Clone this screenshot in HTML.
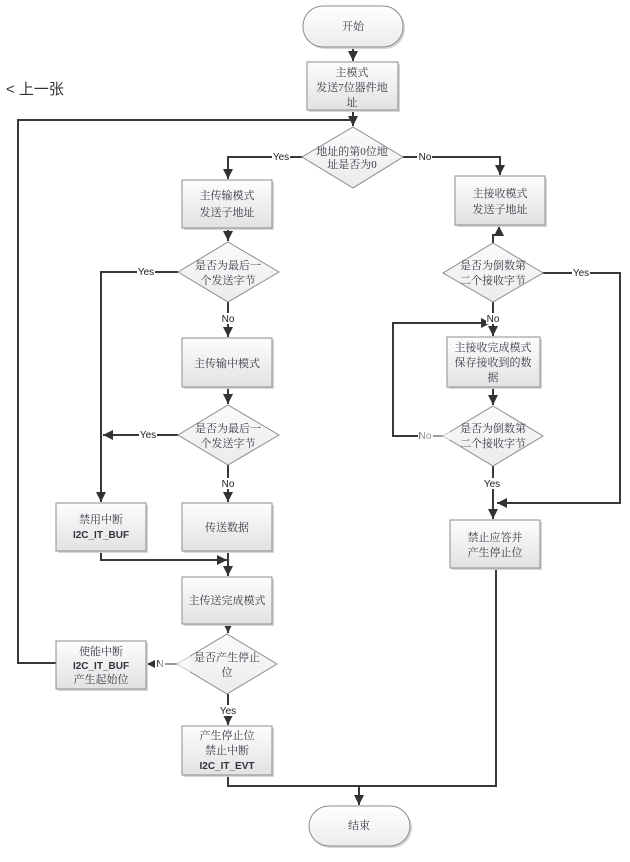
<!DOCTYPE html>
<html><head><meta charset="utf-8"><style>
html,body{margin:0;padding:0;background:#fff;}
svg{display:block;}
.t{font-family:"Liberation Serif","Noto Serif CJK SC","Noto Sans CJK SC",serif;font-size:11px;fill:#3a3a48;text-anchor:middle;}
.m{font-family:"Liberation Sans","Noto Sans CJK SC",sans-serif;font-size:10px;fill:#333340;text-anchor:middle;font-weight:bold;}
.l{font-family:"Liberation Sans","Noto Sans CJK SC",sans-serif;font-size:10px;fill:#222;text-anchor:middle;}
.ln{fill:none;stroke:#383838;stroke-width:2;}
.bx{fill:url(#gb);stroke:#8c8c8c;stroke-width:1;}
.sh{fill:#d6d6d6;}
.dm{fill:url(#gd);stroke:#8c8c8c;stroke-width:1;}
</style></head><body>
<svg width="630" height="862" viewBox="0 0 630 862" xmlns="http://www.w3.org/2000/svg">
<defs>
<linearGradient id="gb" x1="0" y1="0" x2="0" y2="1"><stop offset="0" stop-color="#fdfdfd"/><stop offset="1" stop-color="#e2e2e2"/></linearGradient>
<linearGradient id="gd" x1="0" y1="0" x2="0" y2="1"><stop offset="0" stop-color="#fbfbfb"/><stop offset="1" stop-color="#ebebeb"/></linearGradient>
<linearGradient id="gt" x1="0" y1="0" x2="0" y2="1"><stop offset="0" stop-color="#ffffff"/><stop offset="1" stop-color="#ececec"/></linearGradient>
<marker id="ar" viewBox="0 0 10 10" refX="10" refY="5" markerWidth="5.5" markerHeight="5" orient="auto" markerUnits="strokeWidth"><path d="M0,0 L10,5 L0,10 z" fill="#333"/></marker>
</defs>

<!-- previous label -->
<text x="6" y="94" style="font-family:'Liberation Sans','Noto Sans CJK SC',sans-serif;font-size:15px;fill:#333;">&lt; 上一张</text>

<!-- connectors -->
<polyline class="ln" points="353,47 353,61" marker-end="url(#ar)"/>
<polyline class="ln" points="353,110 353,126" marker-end="url(#ar)"/>
<polyline class="ln" points="56,663 18,663 18,120 353,120"/>
<polyline class="ln" points="302,157 228,157 228,179" marker-end="url(#ar)"/>
<polyline class="ln" points="403,157 500,157 500,175" marker-end="url(#ar)"/>
<polyline class="ln" points="228,228 228,241" marker-end="url(#ar)"/>
<polyline class="ln" points="178,272 101,272 101,502" marker-end="url(#ar)"/>
<polyline class="ln" points="228,302 228,337" marker-end="url(#ar)"/>
<polyline class="ln" points="228,387 228,404" marker-end="url(#ar)"/>
<polyline class="ln" points="178,435 103,435" marker-end="url(#ar)"/>
<polyline class="ln" points="228,465 228,502" marker-end="url(#ar)"/>
<polyline class="ln" points="101,551 101,560 227,560" marker-end="url(#ar)"/>
<polyline class="ln" points="228,551 228,576" marker-end="url(#ar)"/>
<polyline class="ln" points="228,624 228,633" marker-end="url(#ar)"/>
<polyline class="ln" points="177,664 147,664" marker-end="url(#ar)"/>
<polyline class="ln" points="228,694 228,725" marker-end="url(#ar)"/>
<polyline class="ln" points="228,775 228,786 496,786 496,568"/>
<polyline class="ln" points="359,786 359,805" marker-end="url(#ar)"/>

<polyline class="ln" points="493,243 493,235 499,235 499,226" marker-end="url(#ar)"/>
<polyline class="ln" points="543,273 620,273 620,503 497,503" marker-end="url(#ar)"/>
<polyline class="ln" points="493,302 493,336" marker-end="url(#ar)"/>
<polyline class="ln" points="443,436 393,436 393,323 491,323" marker-end="url(#ar)"/>
<polyline class="ln" points="493,387 493,405" marker-end="url(#ar)"/>
<polyline class="ln" points="493,466 493,519" marker-end="url(#ar)"/>

<!-- terminals -->
<rect x="305" y="8" width="100" height="41" rx="20" class="sh"/>
<rect x="303" y="6" width="100" height="41" rx="20" fill="url(#gt)" stroke="#8c8c8c"/>
<text x="353" y="30" class="t">开始</text>
<rect x="311" y="808" width="101" height="40" rx="20" class="sh"/>
<rect x="309" y="806" width="101" height="40" rx="20" fill="url(#gt)" stroke="#8c8c8c"/>
<text x="359" y="829" class="t">结束</text>

<!-- boxes -->
<rect x="309" y="64" width="91" height="48" class="sh"/>
<rect x="307" y="62" width="91" height="48" class="bx"/>
<text x="352" y="76" class="t">主模式</text>
<text x="352" y="91" class="t">发送7位器件地</text>
<text x="352" y="106" class="t">址</text>

<rect x="184" y="182" width="90" height="48" class="sh"/>
<rect x="182" y="180" width="90" height="48" class="bx"/>
<text x="227" y="199" class="t">主传输模式</text>
<text x="227" y="216" class="t">发送子地址</text>

<rect x="457" y="178" width="90" height="49" class="sh"/>
<rect x="455" y="176" width="90" height="49" class="bx"/>
<text x="500" y="197" class="t">主接收模式</text>
<text x="500" y="213" class="t">发送子地址</text>

<rect x="184" y="340" width="90" height="49" class="sh"/>
<rect x="182" y="338" width="90" height="49" class="bx"/>
<text x="227" y="367" class="t">主传输中模式</text>

<rect x="449" y="339" width="93" height="50" class="sh"/>
<rect x="447" y="337" width="93" height="50" class="bx"/>
<text x="493" y="351" class="t">主接收完成模式</text>
<text x="493" y="366" class="t">保存接收到的数</text>
<text x="493" y="381" class="t">据</text>

<rect x="58" y="505" width="90" height="48" class="sh"/>
<rect x="56" y="503" width="90" height="48" class="bx"/>
<text x="101" y="523" class="t">禁用中断</text>
<text x="101" y="538" class="m">I2C_IT_BUF</text>

<rect x="184" y="505" width="90" height="48" class="sh"/>
<rect x="182" y="503" width="90" height="48" class="bx"/>
<text x="227" y="531" class="t">传送数据</text>

<rect x="452" y="522" width="90" height="48" class="sh"/>
<rect x="450" y="520" width="90" height="48" class="bx"/>
<text x="495" y="541" class="t">禁止应答并</text>
<text x="495" y="556" class="t">产生停止位</text>

<rect x="184" y="579" width="90" height="47" class="sh"/>
<rect x="182" y="577" width="90" height="47" class="bx"/>
<text x="227" y="604" class="t">主传送完成模式</text>

<rect x="58" y="643" width="90" height="48" class="sh"/>
<rect x="56" y="641" width="90" height="48" class="bx"/>
<text x="101" y="655" class="t">使能中断</text>
<text x="101" y="669" class="m">I2C_IT_BUF</text>
<text x="101" y="683" class="t">产生起始位</text>

<rect x="184" y="728" width="90" height="49" class="sh"/>
<rect x="182" y="726" width="90" height="49" class="bx"/>
<text x="227" y="739" class="t">产生停止位</text>
<text x="227" y="754" class="t">禁止中断</text>
<text x="227" y="769" class="m">I2C_IT_EVT</text>

<!-- diamonds -->
<polygon class="dm" points="353,127 403,157 353,188 302,157"/>
<text x="352" y="155" class="t">地址的第0位地</text>
<text x="352" y="168" class="t">址是否为0</text>

<polygon class="dm" points="228,242 279,272 228,302 178,272"/>
<text x="228" y="269" class="t">是否为最后一</text>
<text x="228" y="284" class="t">个发送字节</text>

<polygon class="dm" points="228,405 279,435 228,465 178,435"/>
<text x="228" y="432" class="t">是否为最后一</text>
<text x="228" y="447" class="t">个发送字节</text>

<polygon class="dm" points="227,634 277,664 227,694 177,664"/>
<text x="227" y="661" class="t">是否产生停止</text>
<text x="227" y="676" class="t">位</text>

<polygon class="dm" points="493,243 543,273 493,302 443,273"/>
<text x="493" y="269" class="t">是否为倒数第</text>
<text x="493" y="284" class="t">二个接收字节</text>

<polygon class="dm" points="493,406 543,436 493,466 443,436"/>
<text x="493" y="432" class="t">是否为倒数第</text>
<text x="493" y="447" class="t">二个接收字节</text>

<!-- labels -->
<rect x="272" y="151" width="18" height="11" fill="#fff"/><text x="281" y="160" class="l">Yes</text>
<rect x="417" y="151" width="15" height="11" fill="#fff"/><text x="425" y="160" class="l">No</text>
<rect x="137" y="266" width="18" height="11" fill="#fff"/><text x="146" y="275" class="l">Yes</text>
<rect x="221" y="313" width="15" height="11" fill="#fff"/><text x="228" y="322" class="l">No</text>
<rect x="139" y="429" width="18" height="11" fill="#fff"/><text x="148" y="438" class="l">Yes</text>
<rect x="221" y="478" width="15" height="11" fill="#fff"/><text x="228" y="487" class="l">No</text>
<rect x="219" y="705" width="18" height="11" fill="#fff"/><text x="228" y="714" class="l">Yes</text>
<rect x="155" y="658" width="10" height="11" fill="#fff"/><text x="160" y="667" class="l">N</text>
<rect x="572" y="267" width="18" height="11" fill="#fff"/><text x="581" y="276" class="l">Yes</text>
<rect x="486" y="313" width="15" height="11" fill="#fff"/><text x="493" y="322" class="l">No</text>
<rect x="418" y="430" width="15" height="11" fill="#fff"/><text x="425" y="439" class="l">No</text>
<rect x="483" y="478" width="18" height="11" fill="#fff"/><text x="492" y="487" class="l">Yes</text>

<!-- faint watermark blocks -->
<g fill="#ffffff" opacity="0.5">
<rect x="500" y="312" width="30" height="22"/>
<rect x="420" y="400" width="30" height="40"/>
<rect x="160" y="640" width="30" height="50"/>
</g>
</svg>
</body></html>
